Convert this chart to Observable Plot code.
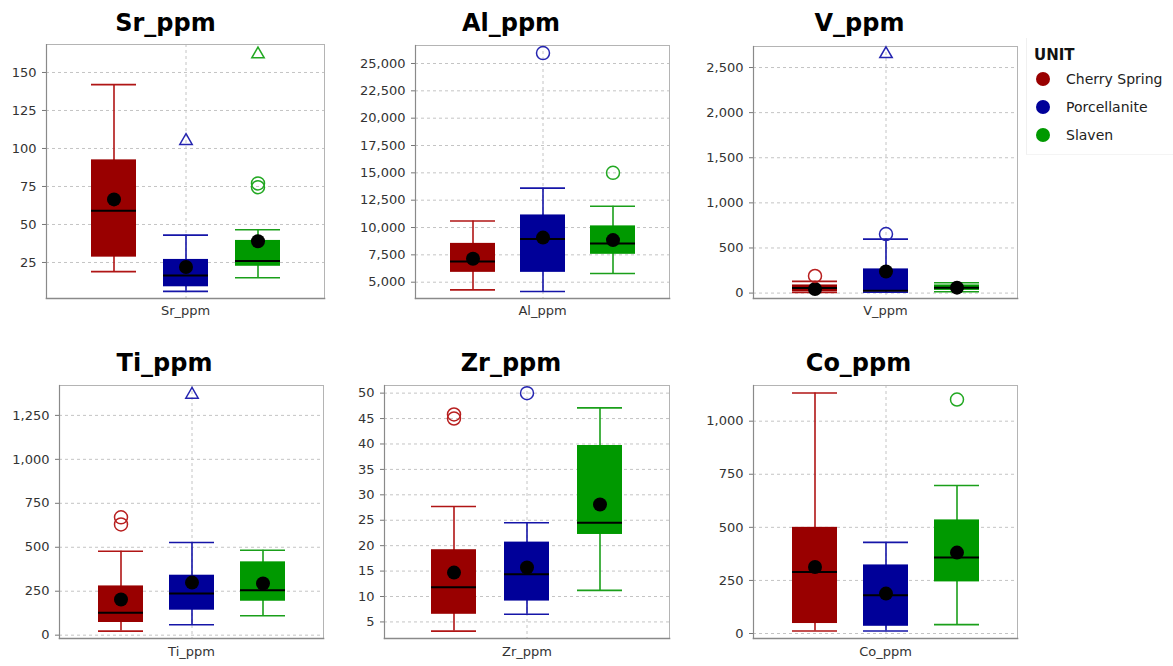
<!DOCTYPE html>
<html>
<head>
<meta charset="utf-8">
<script src="https://cdn.jsdelivr.net/npm/d3@7"></script>
<script src="https://cdn.jsdelivr.net/npm/@observablehq/plot@0.6"></script>
<style>
  html, body { margin: 0; padding: 0; background: #fff; }
  #root { position: relative; width: 1173px; height: 666px; overflow: hidden; background: #fff; font-family: "DejaVu Sans", sans-serif; }
  .panel { position: absolute; }
  .title { position: absolute; font: bold 24px "DejaVu Sans", sans-serif; color: #000; line-height: 24px; white-space: nowrap; transform: translateX(-50%); }
  #legend { position: absolute; left: 1026px; top: 38px; width: 147px; height: 116px; border-left: 1px solid #f0f0f0; border-bottom: 1px solid #f4f4f4; }
  .lg-title { position: absolute; left: 7px; top: 8px; font: bold 15px "DejaVu Sans", sans-serif; color: #111; }
  .lg-row { position: absolute; left: 9px; height: 16px; font: 14px "DejaVu Sans", sans-serif; color: #222; white-space: nowrap; line-height: 16px; }
  .lg-dot { position: absolute; left: 0; top: 1px; width: 14px; height: 14px; border-radius: 50%; }
  .lg-label { position: absolute; left: 30px; top: 0; }
</style>
</head>
<body>
<div id="root"></div>
<script>
// ---------- data ----------
const units = ["Cherry Spring", "Porcellanite", "Slaven"];
const variables = ["Sr_ppm", "Al_ppm", "V_ppm", "Ti_ppm", "Zr_ppm", "Co_ppm"];

// per variable: [Cherry Spring, Porcellanite, Slaven]
const whiskerLow  = [[19, 6, 15],        [4300, 4150, 5800],   [8, 10, 15],     [23, 59, 110],   [3.2, 6.5, 11.2],  [12, 12, 42]];
const quartile1   = [[28.5, 9, 22.5],    [5900, 5900, 7550],   [15, 14, 30],    [72, 142, 193],  [6.5, 9.1, 22.2],  [47, 34, 243]];
const medians     = [[59, 16.5, 26],     [6900, 8950, 8550],   [55, 25, 60],    [127, 237, 256], [11.8, 14.4, 24.5], [290, 180, 358]];
const quartile3   = [[92.5, 27, 39.5],   [8550, 11150, 10150], [90, 268, 90],   [280, 341, 417], [19.2, 20.7, 39.7], [500, 323, 535]];
const whiskerHigh = [[142, 43, 46.5],    [10600, 13600, 11950],[130, 598, 115], [477, 527, 483], [27.7, 24.5, 47.1], [1133, 429, 697]];
const means       = [[66.5, 22, 39],     [7150, 9080, 8850],   [45, 240, 60],   [203, 299, 294], [14.7, 15.7, 28.1], [313, 188, 381]];

// outliers: variable, unit, value, kind
const outlierVariable = ["Sr_ppm", "Sr_ppm", "Sr_ppm", "Sr_ppm", "Al_ppm", "Al_ppm", "V_ppm", "V_ppm", "V_ppm", "Ti_ppm", "Ti_ppm", "Ti_ppm", "Zr_ppm", "Zr_ppm", "Zr_ppm", "Co_ppm"];
const outlierUnit     = ["Porcellanite", "Slaven", "Slaven", "Slaven", "Porcellanite", "Slaven", "Cherry Spring", "Porcellanite", "Porcellanite", "Cherry Spring", "Cherry Spring", "Porcellanite", "Cherry Spring", "Cherry Spring", "Porcellanite", "Slaven"];
const outlierValue    = [105, 77, 74.5, 162, 25950, 15000, 190, 654, 2650, 670, 630, 1368, 45.8, 45.0, 50, 1102];
const outlierKind     = ["extreme", "mild", "mild", "extreme", "mild", "mild", "mild", "mild", "extreme", "mild", "mild", "extreme", "mild", "mild", "mild", "mild"];

// axis ticks and ranges
const yTicks = [
  [25, 50, 75, 100, 125, 150],
  [5000, 7500, 10000, 12500, 15000, 17500, 20000, 22500, 25000],
  [0, 500, 1000, 1500, 2000, 2500],
  [0, 250, 500, 750, 1000, 1250],
  [5, 10, 15, 20, 25, 30, 35, 40, 45, 50],
  [0, 250, 500, 750, 1000]
];
const yDomains = [[1.3, 168.4], [3509, 26646], [-60, 2733], [-19, 1420], [1.74, 51.5], [-23.5, 1168]];

// ---------- styles / layout ----------
const fillColors   = ["#990000", "#000099", "#009900"];
const strokeColors = ["#b01515", "#1515a8", "#1a9f1a"];
const outlineColors = ["#b82020", "#2525b0", "#22a822"];
// frame boxes: left, right, top, bottom (px in page)
const frames = [[46, 324, 44, 298], [415, 669, 45, 298], [753, 1017, 46, 298], [59, 323, 385, 638], [384, 669, 385, 638], [753, 1017, 385, 638]];
const steps = [72, 70, 71, 71, 73, 71];
const titleX = [165.5, 511, 859.5, 164.5, 511, 858.5];
const titleTop = [11, 11, 11, 351, 351, 351];
const xLabelDy = [16, 16, 16, 17, 17, 17];
const fmt = d3.format(",");

const root = document.getElementById("root");
const colorOf = (arr, u) => arr[units.indexOf(u)];

variables.forEach((v, i) => {
  const rows = units.map((u, j) => ({
    unit: u, lo: whiskerLow[i][j], q1: quartile1[i][j], med: medians[i][j],
    q3: quartile3[i][j], hi: whiskerHigh[i][j], mean: means[i][j]
  }));
  const outs = outlierValue.map((val, k) => ({variable: outlierVariable[k], unit: outlierUnit[k], value: val, kind: outlierKind[k]}))
    .filter(o => o.variable === v);

  const [L, R, T, B] = frames[i];
  const W = R - L, H = B - T;
  const ml = 62, mr = 6, mt = 6, mb = 32;
  const bandW = 45;
  const step = steps[i];
  const pi = 1 - bandW / step;
  const po = (W / step - 3 + pi) / 2;

  const chart = Plot.plot({
    width: W + ml + mr,
    height: H + mt + mb,
    marginLeft: ml, marginRight: mr, marginTop: mt, marginBottom: mb,
    style: {fontFamily: "DejaVu Sans, sans-serif", fontSize: "13px", background: "transparent", color: "#333", overflow: "visible"},
    x: {type: "band", domain: units, paddingInner: pi, paddingOuter: po, align: 0.5, axis: null},
    y: {domain: yDomains[i], axis: null},
    marks: [
      Plot.gridY(yTicks[i], {stroke: "#c4c4c4", strokeOpacity: 1, strokeDasharray: "3,3"}),
      Plot.gridX(["Porcellanite"], {stroke: "#c4c4c4", strokeOpacity: 1, strokeDasharray: "3,3"}),
      Plot.frame({stroke: "#b4b4b4"}),
      Plot.axisY(yTicks[i], {tickSize: 4, tickPadding: 6, tickFormat: d => fmt(d), stroke: "#777", fill: "#333", fontSize: 13, label: null}),
      Plot.ruleX(rows, {x: "unit", y1: "lo", y2: "hi", stroke: d => colorOf(strokeColors, d.unit), strokeWidth: 1.6}),
      Plot.tickY(rows, {x: "unit", y: "lo", stroke: d => colorOf(strokeColors, d.unit), strokeWidth: 1.6}),
      Plot.tickY(rows, {x: "unit", y: "hi", stroke: d => colorOf(strokeColors, d.unit), strokeWidth: 1.6}),
      Plot.barY(rows, {x: "unit", y1: "q1", y2: "q3", fill: d => colorOf(fillColors, d.unit)}),
      Plot.tickY(rows, {x: "unit", y: "med", stroke: "#000", strokeWidth: 2}),
      Plot.dot(rows, {x: "unit", y: "mean", r: 7, fill: "#000", stroke: "none"}),
      Plot.dot(outs.filter(o => o.kind === "mild"), {x: "unit", y: "value", r: 6.5, fill: "none", stroke: d => colorOf(outlineColors, d.unit), strokeWidth: 1.5}),
      Plot.dot(outs.filter(o => o.kind === "extreme"), {x: "unit", y: "value", r: 4.6, symbol: "triangle", fill: "none", stroke: d => colorOf(outlineColors, d.unit), strokeWidth: 1.5}),
      Plot.frame({anchor: "left", stroke: "#8a8a8a", strokeWidth: 1.2}),
      Plot.frame({anchor: "bottom", stroke: "#8a8a8a", strokeWidth: 1.6}),
      Plot.text([v], {frameAnchor: "bottom", dy: xLabelDy[i], text: d => d, fill: "#333", fontSize: 13, letterSpacing: "0.6px"})
    ]
  });

  const div = document.createElement("div");
  div.className = "panel";
  div.style.left = (L - ml) + "px";
  div.style.top = (T - mt) + "px";
  div.appendChild(chart);
  root.appendChild(div);

  const t = document.createElement("div");
  t.className = "title";
  t.style.left = titleX[i] + "px";
  t.style.top = titleTop[i] + "px";
  t.textContent = v;
  root.appendChild(t);
});

// legend
const legend = document.createElement("div");
legend.id = "legend";
const lt = document.createElement("div");
lt.className = "lg-title";
lt.textContent = "UNIT";
legend.appendChild(lt);
units.forEach((u, j) => {
  const row = document.createElement("div");
  row.className = "lg-row";
  row.style.top = (33 + j * 28) + "px";
  const dot = document.createElement("div");
  dot.className = "lg-dot";
  dot.style.background = fillColors[j];
  const lab = document.createElement("span");
  lab.className = "lg-label";
  lab.textContent = u;
  row.appendChild(dot);
  row.appendChild(lab);
  legend.appendChild(row);
});
root.appendChild(legend);
</script>
</body>
</html>
